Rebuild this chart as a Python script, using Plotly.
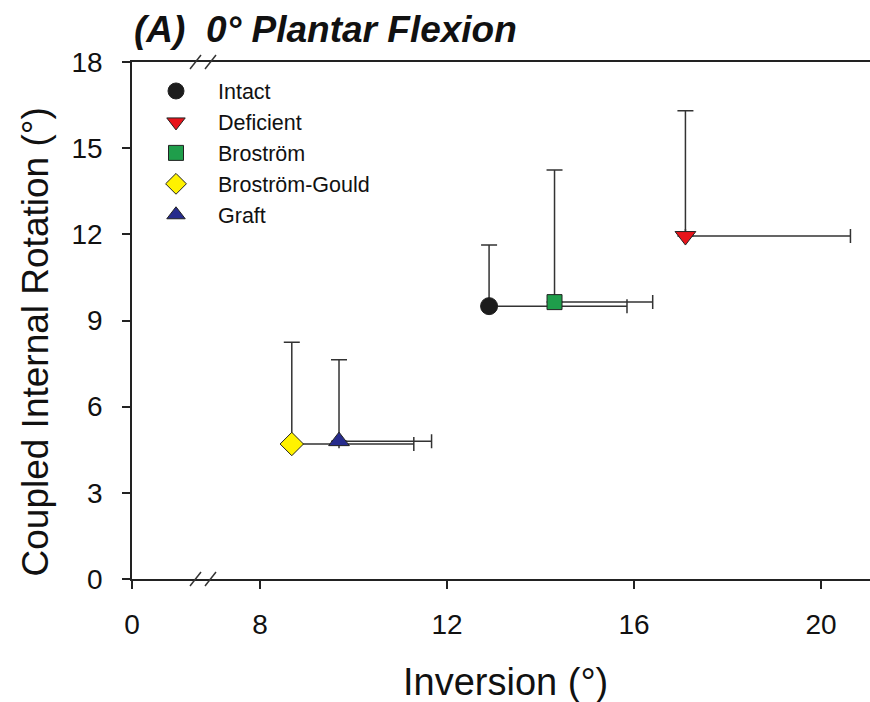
import plotly.graph_objects as go

# ---- data ----
groups = ["Intact", "Deficient", "Broström", "Broström-Gould", "Graft"]
inversion = [12.9, 17.1, 14.3, 8.68, 9.69]
inversion_err = [2.95, 3.53, 2.1, 2.61, 1.98]
rotation = [9.5, 11.94, 9.64, 4.7, 4.8]
rotation_err = [2.13, 4.36, 4.6, 3.54, 2.83]
symbols = ["circle", "triangle-down", "square", "diamond", "triangle-up"]
colors = ["#1c1c1c", "#e8141b", "#1f9e4b", "#fff200", "#262b8c"]
sizes = [17, 18, 15, 18, 18]

x_ticks_main = [8, 12, 16, 20]
x_ticks_low = [0]
y_ticks = [0, 3, 6, 9, 12, 15, 18]

FONT = "Arial, Liberation Sans, sans-serif"
W, H = 870, 702
ML, MR, MT, MB = 132, 0, 62, 123
PW = W - ML - MR
PH = H - MT - MB
brk = (205 - ML) / PW

fig = go.Figure()
# anchor trace for the short (broken-off) low segment of the x axis
fig.add_trace(go.Scatter(x=[None], y=[None], xaxis="x", yaxis="y",
                         showlegend=False, hoverinfo="skip", mode="markers"))
for i, g in enumerate(groups):
    fig.add_trace(go.Scatter(
        x=[inversion[i]], y=[rotation[i]], name=g, mode="markers",
        xaxis="x2", yaxis="y",
        marker=dict(symbol=symbols[i], color=colors[i], size=sizes[i],
                    line=dict(color="#222222", width=1)),
        error_x=dict(type="data", symmetric=False, array=[inversion_err[i]],
                     arrayminus=[0], color="#333333", thickness=1.5, width=7),
        error_y=dict(type="data", symmetric=False, array=[rotation_err[i]],
                     arrayminus=[0], color="#333333", thickness=1.5, width=8),
    ))

axis_common = dict(showline=True, linecolor="#222222", linewidth=1.5,
                   ticks="outside", ticklen=8, tickwidth=1.5, tickcolor="#222222",
                   showgrid=False, zeroline=False, automargin=False,
                   tickfont=dict(family=FONT, size=28, color="#111111"))

fig.update_layout(
    template="none",
    width=W, height=H,
    margin=dict(l=ML, r=MR, t=MT, b=MB, pad=0),
    paper_bgcolor="white", plot_bgcolor="white",
    font=dict(family=FONT, color="#111111"),
    xaxis=dict(domain=[0, brk], range=[0, 1.5], tickvals=x_ticks_low,
               anchor="y", mirror=True, ticklabelstandoff=12, **axis_common),
    xaxis2=dict(domain=[brk, 1], range=[8 - 55 / 46.75, 8 + 610 / 46.75],
                tickvals=x_ticks_main, anchor="y", mirror=True,
                ticklabelstandoff=12, **axis_common),
    yaxis=dict(domain=[0, 1], range=[0, 18], tickvals=y_ticks, anchor="x",
               mirror=False, ticklabelstandoff=14, **axis_common),
    showlegend=True,
    legend=dict(x=(134 - ML) / PW, y=1 - (70.5 - MT) / PH,
                xanchor="left", yanchor="top",
                bgcolor="rgba(0,0,0,0)", borderwidth=0, tracegroupgap=0,
                font=dict(family=FONT, size=21.5, color="#111111"),
                itemwidth=74),
)

# axis break marks
for ya in (0, 1):
    for x0 in (-15, 0):
        fig.add_shape(type="line", xref="paper", yref="paper",
                      xsizemode="pixel", ysizemode="pixel",
                      xanchor=brk, yanchor=ya,
                      x0=x0, x1=x0 + 11, y0=-7, y1=7,
                      line=dict(color="#333333", width=1.5))

fig.add_annotation(text="<b><i>(A)\u00a0\u00a00° Plantar Flexion</i></b>",
                   xref="paper", yref="paper", x=0.0, y=1 + (62 - 29) / PH,
                   xanchor="left", yanchor="middle", showarrow=False,
                   font=dict(family=FONT, size=37, color="#111111"))
fig.add_annotation(text="Coupled Internal Rotation (°)", textangle=-90,
                   xref="paper", yref="paper", x=(35 - ML) / PW, y=(579 - 342.5) / PH,
                   xanchor="center", yanchor="middle", showarrow=False,
                   font=dict(family=FONT, size=37, color="#111111"))
fig.add_annotation(text="Inversion (°)",
                   xref="paper", yref="paper", x=(505 - ML) / PW, y=(579 - 682) / PH,
                   xanchor="center", yanchor="middle", showarrow=False,
                   font=dict(family=FONT, size=38, color="#111111"))

fig.write_html("out.html",
               config={"displayModeBar": False},
               post_script="document.body.style.margin='0px';"
                           "document.body.style.overflow='hidden';")
